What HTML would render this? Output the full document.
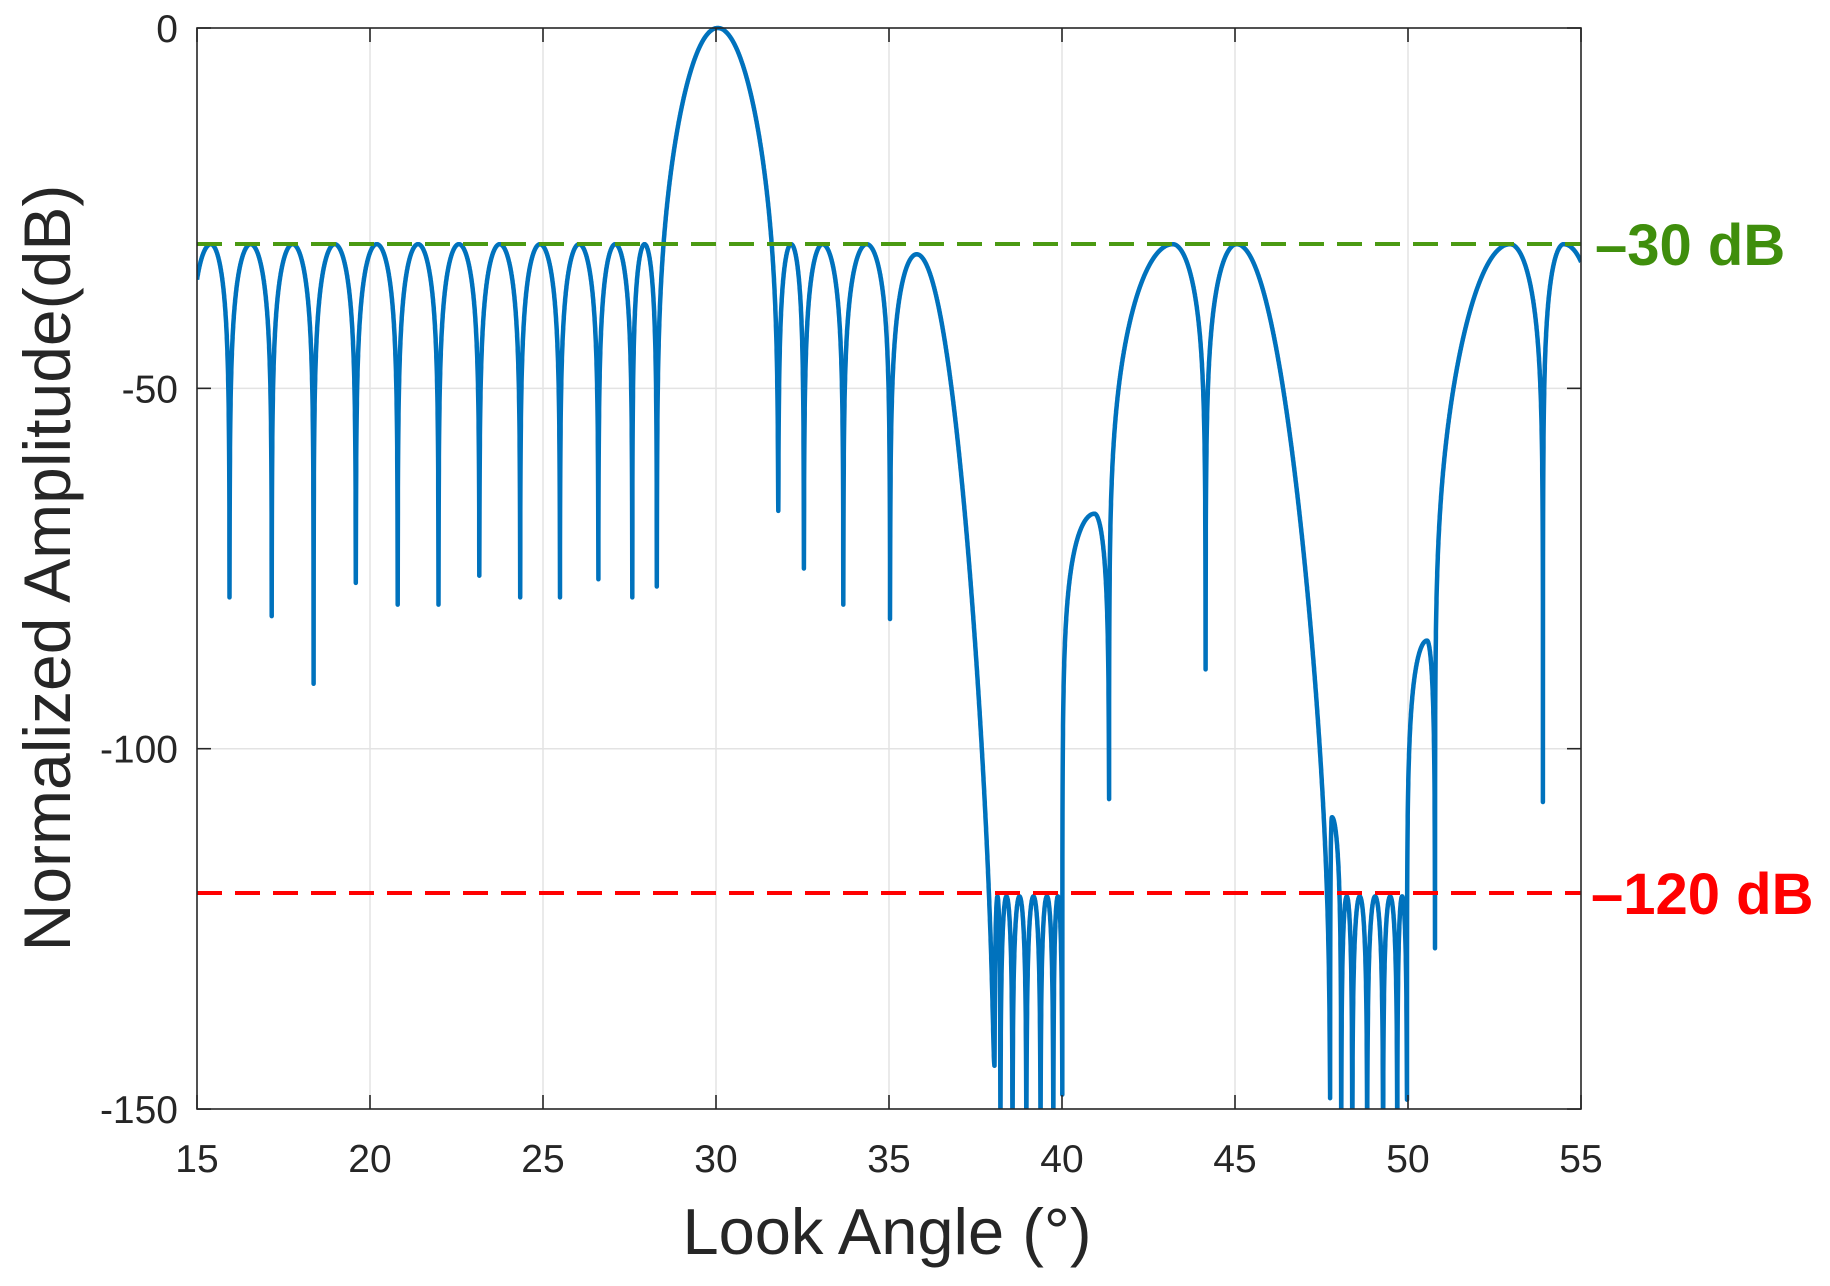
<!DOCTYPE html>
<html><head><meta charset="utf-8"><style>
html,body{margin:0;padding:0;background:#fff;}
svg{display:block;}
text{font-family:"Liberation Sans",Arial,sans-serif;}
</style></head><body>
<svg id="s" width="1830" height="1286" viewBox="0 0 1830 1286" xmlns="http://www.w3.org/2000/svg">
<defs><clipPath id="c"><rect x="197" y="20" width="1384" height="1089"/></clipPath></defs>
<g id="grid" stroke="#e3e3e3" stroke-width="1.5"></g>
<path id="curve" clip-path="url(#c)" fill="none" stroke="#0072BD" stroke-width="4.5" stroke-linejoin="round"/>
<line x1="197" y1="244" x2="1581" y2="244" stroke="#4b9a12" stroke-width="4" stroke-dasharray="25,13"/>
<line x1="197" y1="893" x2="1581" y2="893" stroke="#ff0000" stroke-width="4" stroke-dasharray="25,13"/>
<rect x="197" y="28" width="1384" height="1081" fill="none" stroke="#262626" stroke-width="1.6"/>
<g id="ticks" stroke="#262626" stroke-width="1.6"></g>
<g id="labels" font-size="39" fill="#262626"></g>
<text x="887" y="1254" font-size="65" fill="#262626" text-anchor="middle">Look Angle (°)</text>
<text transform="translate(70,568) rotate(-90)" font-size="66" fill="#262626" text-anchor="middle">Normalized Amplitude(dB)</text>
<text x="1595" y="265" font-size="58" font-weight="bold" fill="#3f8e0c">–30 dB</text>
<text x="1591" y="914" font-size="58" font-weight="bold" fill="#ff0000">–120 dB</text>
</svg>
<script>
var X=function(d){return 197+(d-15)*34.6;};
var Y=function(db){return 28-db*7.207;};
var ns="http://www.w3.org/2000/svg";
function el(p,t,a,txt){var e=document.createElementNS(ns,t);for(var k in a)e.setAttribute(k,a[k]);if(txt!==undefined)e.textContent=txt;document.getElementById(p).appendChild(e);}
for(var d=20;d<=50;d+=5)el('grid','line',{x1:X(d),y1:28,x2:X(d),y2:1109});
[-50,-100].forEach(function(v){el('grid','line',{x1:197,y1:Y(v),x2:1581,y2:Y(v)});});
for(var d=15;d<=55;d+=5){el('ticks','line',{x1:X(d),y1:1109,x2:X(d),y2:1095});el('ticks','line',{x1:X(d),y1:28,x2:X(d),y2:42});
 el('labels','text',{x:X(d),y:1172,'text-anchor':'middle'},String(d));}
[0,-50,-100,-150].forEach(function(v){el('ticks','line',{x1:197,y1:Y(v),x2:211,y2:Y(v)});el('ticks','line',{x1:1581,y1:Y(v),x2:1567,y2:Y(v)});
 el('labels','text',{x:178,y:Y(v)+14,'text-anchor':'end'},String(v));});
var N=[[14.75,-80],[15.94,-79],[17.16,-81.6],[18.37,-91],[19.59,-77],[20.80,-80],[21.98,-80],[23.16,-76],[24.34,-79],[25.49,-79],[26.60,-76.5],[27.58,-79],[28.29,-77.5],
[31.80,-67],[32.54,-75],[33.68,-80],[35.03,-82],[38.05,-144],[38.22,-155],[38.57,-155],[38.97,-155],[39.38,-155],[39.75,-155],[40.01,-148],[41.36,-107],[44.15,-89],
[47.75,-148.5],[48.07,-155],[48.39,-155],[48.82,-155],[49.28,-155],[49.69,-155],[49.97,-148.7],[50.78,-127.7],[53.9,-107.4],[55.6,-80]];
var P=[[15.4,-30,0,0]];
for(var i=1;i<12;i++)P.push([null,-30,0,0]);
P.push([30.05,0,6,6],[null,-30,0,0],[33.08,-30,0,0],[null,-30,0,0],[35.8,-31.4,2,16]);
for(var i=0;i<6;i++)P.push([null,-120.5,0,0]);
P.push([40.94,-67.4,0,0],[43.2,-30,3,2],[45.05,-30,2,9.5],[47.8,-109.5,0,0]);
for(var i=0;i<5;i++)P.push([null,-120.5,0,0]);
P.push([50.55,-85,0,0],[52.95,-30,4.3,2],[54.5,-30,0,0]);
var pts=[];
for(var x=15;x<=55.0001;x+=0.0025){
 var k=0;while(k<N.length-2&&x>N[k+1][0])k++;
 var a=N[k][0],b=N[k+1][0],pp=P[k][0]===null?(a+b)/2:P[k][0],pk=P[k][1];
 var s=x<pp?Math.sin(Math.PI/2*(x-a)/(pp-a)):Math.sin(Math.PI/2*(b-x)/(b-pp));
 if(s<0)s=0;
 var c=x<pp?P[k][2]:P[k][3];
 var pk2=pk-c*(x-pp)*(x-pp);
 var dd=(x-a)<(b-x)?N[k][1]:N[k+1][1];
 var lin=Math.pow(10,pk2/20)*s,f=Math.pow(10,dd/20);
 var v=10*Math.log10(lin*lin+f*f);
 if(v<-152)v=-152;
 pts.push(X(x).toFixed(1)+","+Y(v).toFixed(1));
}
document.getElementById('curve').setAttribute('d','M'+pts.join('L'));
</script>
</body></html>
